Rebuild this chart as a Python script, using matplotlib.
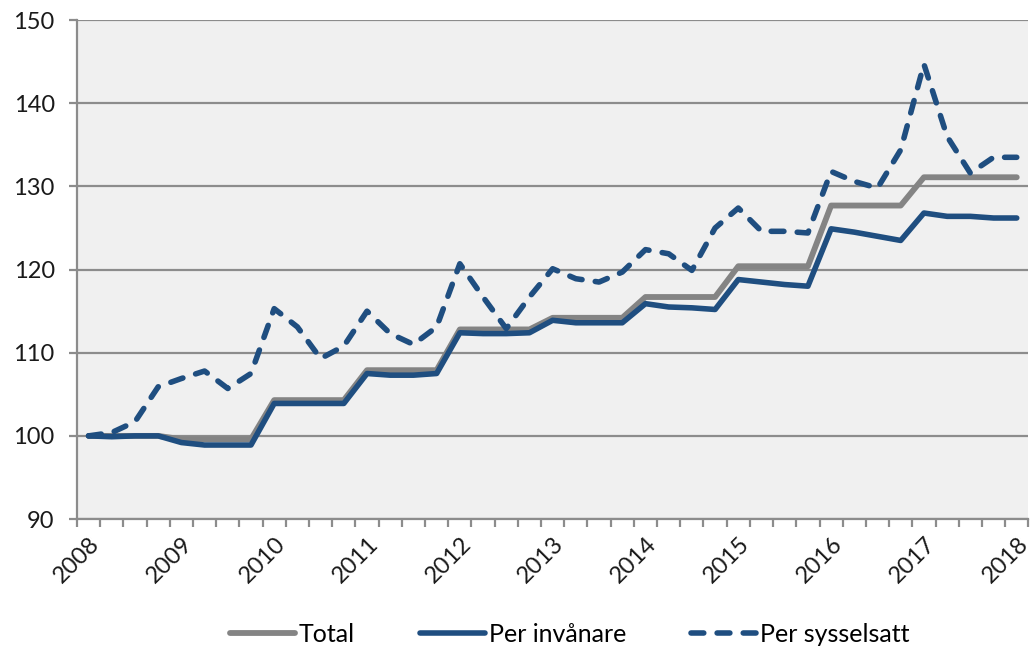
import numpy as np
import matplotlib
matplotlib.use('Agg')
from matplotlib import pyplot as plt

# quarterly index, 2008 = 100
years = ['2008', '2009', '2010', '2011', '2012', '2013', '2014', '2015', '2016', '2017', '2018']

total = [100.0, 100.0, 100.0, 100.0,
         99.6, 99.6, 99.6, 99.6,
         104.3, 104.3, 104.3, 104.3,
         107.9, 107.9, 107.9, 107.9,
         112.8, 112.8, 112.8, 112.8,
         114.2, 114.2, 114.2, 114.2,
         116.7, 116.7, 116.7, 116.7,
         120.4, 120.4, 120.4, 120.4,
         127.7, 127.7, 127.7, 127.7,
         131.1, 131.1, 131.1, 131.1, 131.1]

per_invanare = [100.0, 99.9, 100.0, 100.0,
                99.2, 98.9, 98.9, 98.9,
                103.9, 103.9, 103.9, 103.9,
                107.5, 107.3, 107.3, 107.5,
                112.4, 112.3, 112.3, 112.4,
                113.9, 113.6, 113.6, 113.6,
                115.9, 115.5, 115.4, 115.2,
                118.8, 118.5, 118.2, 118.0,
                124.9, 124.5, 124.0, 123.5,
                126.8, 126.4, 126.4, 126.2, 126.2]

per_sysselsatt = [100.0, 100.4, 101.7, 105.9,
                  106.9, 107.8, 105.7, 107.5,
                  115.3, 113.1, 109.3, 110.8,
                  115.0, 112.3, 111.0, 113.1,
                  120.7, 116.7, 112.9, 116.7,
                  120.1, 118.9, 118.5, 119.7,
                  122.4, 121.9, 119.9, 125.0,
                  127.4, 124.6, 124.6, 124.4,
                  131.8, 130.6, 129.8, 134.4,
                  144.7, 136.0, 131.6, 133.5, 133.5]

plt.rcParams['font.family'] = ['Lato', 'DejaVu Sans']

grey = '#848484'
blue = '#1f4e80'
axis_grey = '#8c8c8c'

fig = plt.figure(figsize=(10.33, 6.48), dpi=100)
ax = fig.add_axes([0.0745, 0.199, 0.921, 0.770])
ax.set_facecolor('#f0f0f0')

n = len(total)
x = np.arange(n) + 0.5

ax.plot(x, total, color=grey, lw=4.2, solid_capstyle='round', solid_joinstyle='round', label='Total', zorder=3)
ax.plot(x, per_invanare, color=blue, lw=4.0, solid_capstyle='round', solid_joinstyle='round', label='Per invånare', zorder=4)
ax.plot(x, per_sysselsatt, color=blue, lw=4.0, dashes=(2.3, 2.4), dash_capstyle='round',
        dash_joinstyle='round', label='Per sysselsatt', zorder=4)

ax.set_xlim(0, n)
ax.set_ylim(90, 150)
ax.set_yticks(np.arange(90, 151, 10))
ax.set_xticks(np.arange(0, n + 1))
ax.set_xticklabels([years[k // 4] if k % 4 == 0 else '' for k in range(n + 1)],
                   rotation=45, ha='center', va='top')

ax.grid(axis='y', color=axis_grey, lw=1.6, zorder=1)
ax.set_axisbelow(True)
for s in ['top', 'right']:
    ax.spines[s].set_visible(False)
for s in ['left', 'bottom']:
    ax.spines[s].set_color(axis_grey)
    ax.spines[s].set_linewidth(1.6)
ax.tick_params(axis='both', colors=axis_grey, length=6, width=1.6, labelcolor='#1a1a1a', labelsize=17)
ax.tick_params(axis='x', pad=4)
ax.tick_params(axis='y', pad=10)

ax.legend(loc='upper center', bbox_to_anchor=(0.518, -0.163), ncol=3, frameon=False,
          fontsize=18, handlelength=2.6, handletextpad=0.15, columnspacing=2.6)

plt.savefig('out.png', dpi=100)
